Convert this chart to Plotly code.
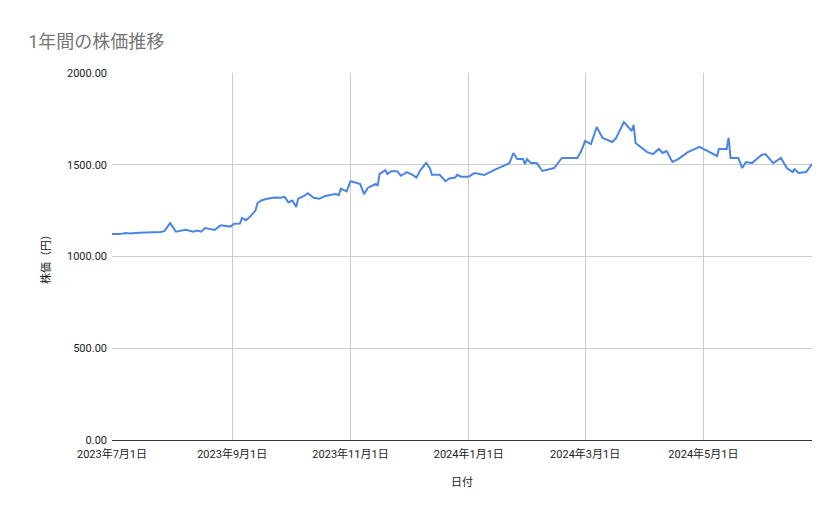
import plotly.graph_objects as go

dates = [
    "2023-07-01", "2023-07-05", "2023-07-08", "2023-07-10", "2023-07-15", "2023-07-26",
    "2023-07-28", "2023-07-31", "2023-08-03", "2023-08-08", "2023-08-10", "2023-08-12",
    "2023-08-14", "2023-08-16", "2023-08-18", "2023-08-20", "2023-08-23", "2023-08-26",
    "2023-08-28", "2023-08-31", "2023-09-02", "2023-09-05", "2023-09-06", "2023-09-08",
    "2023-09-10", "2023-09-13", "2023-09-14", "2023-09-16", "2023-09-19", "2023-09-23",
    "2023-09-26", "2023-09-28", "2023-09-30", "2023-10-02", "2023-10-04", "2023-10-05",
    "2023-10-08", "2023-10-10", "2023-10-13", "2023-10-16", "2023-10-19", "2023-10-24",
    "2023-10-26", "2023-10-27", "2023-10-30", "2023-11-01", "2023-11-03", "2023-11-06",
    "2023-11-08", "2023-11-10", "2023-11-12", "2023-11-14", "2023-11-15", "2023-11-16",
    "2023-11-19", "2023-11-20", "2023-11-22", "2023-11-25", "2023-11-27", "2023-11-30",
    "2023-12-03", "2023-12-05", "2023-12-07", "2023-12-10", "2023-12-12", "2023-12-13",
    "2023-12-17", "2023-12-20", "2023-12-22", "2023-12-25", "2023-12-26", "2023-12-28",
    "2024-01-01", "2024-01-04", "2024-01-09", "2024-01-14", "2024-01-22", "2024-01-24",
    "2024-01-26", "2024-01-29", "2024-01-30", "2024-01-31", "2024-02-02", "2024-02-05",
    "2024-02-08", "2024-02-14", "2024-02-18", "2024-02-26", "2024-02-28", "2024-03-01",
    "2024-03-04", "2024-03-07", "2024-03-10", "2024-03-15", "2024-03-17", "2024-03-21",
    "2024-03-25", "2024-03-26", "2024-03-27", "2024-04-02", "2024-04-05", "2024-04-08",
    "2024-04-10", "2024-04-12", "2024-04-15", "2024-04-18", "2024-04-23", "2024-04-29",
    "2024-05-08", "2024-05-09", "2024-05-13", "2024-05-14", "2024-05-15", "2024-05-19",
    "2024-05-21", "2024-05-23", "2024-05-26", "2024-05-31", "2024-06-02", "2024-06-06",
    "2024-06-10", "2024-06-13", "2024-06-16", "2024-06-17", "2024-06-19", "2024-06-23",
    "2024-06-26",
]
prices = [
    1123, 1122, 1128, 1125, 1130, 1133,
    1138, 1182, 1135, 1145, 1140, 1135,
    1142, 1135, 1155, 1150, 1145, 1170,
    1168, 1163, 1178, 1180, 1210, 1198,
    1215, 1250, 1290, 1305, 1315, 1322,
    1320, 1325, 1295, 1305, 1270, 1315,
    1330, 1345, 1320, 1315, 1330, 1340,
    1335, 1370, 1355, 1410, 1405, 1395,
    1340, 1375, 1385, 1395, 1385, 1450,
    1470, 1450, 1465, 1465, 1440, 1460,
    1445, 1430, 1470, 1510, 1480, 1445,
    1445, 1410, 1425, 1430, 1445, 1435,
    1435, 1455, 1444, 1471, 1509, 1564,
    1531, 1531, 1504, 1531, 1509, 1509,
    1466, 1482, 1537, 1537, 1575, 1630,
    1613, 1706, 1646, 1624, 1646, 1733,
    1684, 1717, 1619, 1569, 1558, 1586,
    1564, 1575, 1515, 1531, 1569, 1597,
    1548, 1586, 1586, 1646, 1537, 1537,
    1482, 1515, 1509, 1553, 1558, 1509,
    1537, 1482, 1460, 1476, 1455, 1460,
    1504,
]
tick_dates = ["2023-07-01", "2023-09-01", "2023-11-01", "2024-01-01", "2024-03-01", "2024-05-01"]
tick_labels = ["2023年7月1日", "2023年9月1日", "2023年11月1日", "2024年1月1日", "2024年3月1日", "2024年5月1日"]
y_ticks = [0, 500, 1000, 1500, 2000]

font = "Roboto, 'Noto Sans CJK JP', sans-serif"

fig = go.Figure(go.Scatter(
    x=dates, y=prices, mode="lines",
    line=dict(color="#4a86e0", width=2),
))

# page body has an 8px default margin, so margins are shifted by that
fig.update_layout(
    width=839, height=519,
    margin=dict(l=104, r=35, t=65, b=87),
    plot_bgcolor="white", paper_bgcolor="white",
    font=dict(family=font, size=11, color="#222222"),
    showlegend=False,
    title=dict(text="1年間の株価推移", x=0.024, xanchor="left", y=0.935, yanchor="middle",
               font=dict(size=18, color="#757575", family=font)),
)
fig.update_xaxes(
    range=["2023-07-01", "2024-06-26"],
    tickvals=tick_dates, ticktext=tick_labels,
    showgrid=True, gridcolor="#cccccc", gridwidth=1,
    showline=True, linecolor="#333333",
    ticklabelstandoff=4,
    title=dict(text="日付", font=dict(size=11), standoff=18),
)
fig.update_yaxes(
    range=[0, 2000],
    tickvals=y_ticks, ticktext=[f"{v:.2f}" for v in y_ticks],
    showgrid=True, gridcolor="#cccccc", gridwidth=1, zeroline=False,
    ticklabelstandoff=4,
    title=dict(text="株価（円）", font=dict(size=11), standoff=14),
)

fig.write_html("out.html")
